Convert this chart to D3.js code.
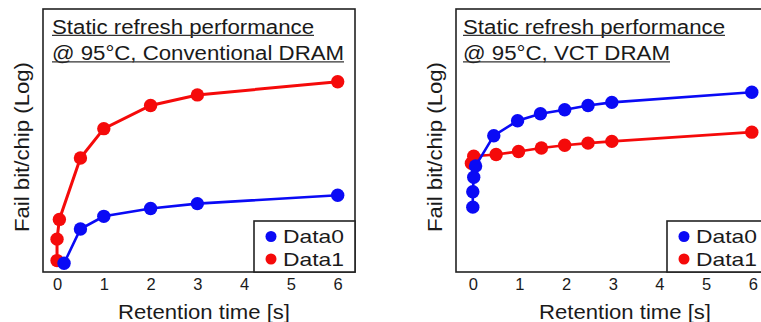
<!DOCTYPE html>
<html>
<head>
<meta charset="utf-8">
<script src="https://cdn.jsdelivr.net/npm/d3@7"></script>
<style>
  body { margin: 0; background: #fff; }
  text { font-family: "Liberation Sans", Arial, sans-serif; fill: #1a1a1a; }
</style>
</head>
<body>
<div id="vis"></div>
<script>
/* DATA (y = fail bit/chip in log decades, arbitrary origin) */
var xTicks = [0, 1, 2, 3, 4, 5, 6];
var seriesNames = ["Data0", "Data1"];

var convData0 = [[0.15, 0.20], [0.5, 0.98], [1, 1.27], [2, 1.45], [3, 1.56], [6, 1.75]];
var convData1 = [[0, 0.26], [0, 0.75], [0.05, 1.20], [0.5, 2.60], [1, 3.27], [2, 3.80], [3, 4.04], [6, 4.34]];

var vctData0 = [[0, 1.48], [0, 1.83], [0.02, 2.16], [0.06, 2.42], [0.45, 3.11], [0.96, 3.45], [1.45, 3.61], [1.97, 3.70], [2.47, 3.80], [2.98, 3.87], [5.98, 4.10]];
var vctData1 = [[-0.03, 2.48], [0.02, 2.64], [0.5, 2.68], [0.98, 2.75], [1.47, 2.83], [1.97, 2.89], [2.47, 2.94], [2.98, 2.98], [5.98, 3.19]];

var titleLine1 = "Static refresh performance";
var convTitle2 = "@ 95°C, Conventional DRAM";
var vctTitle2 = "@ 95°C, VCT DRAM";

var colors = ["#0a0af5", "#f50a0a"];

var w = 761;
var h = 322;

var svg = d3.select("#vis")
    .append("svg")
    .attr("width", w)
    .attr("height", h);

function drawPanel(opt) {
    var g = svg.append("g");

    var xScale = d3.scaleLinear()
        .domain(opt.xDomain)
        .range([opt.left, opt.right]);

    var yScale = d3.scaleLinear()
        .domain([0, 6])
        .range([opt.bottom, opt.top]);

    // frame
    g.append("rect")
        .attr("x", opt.left)
        .attr("y", opt.top)
        .attr("width", opt.right - opt.left)
        .attr("height", opt.bottom - opt.top)
        .attr("fill", "none")
        .attr("stroke", "#222")
        .attr("stroke-width", 1.6);

    /* TITLE (two underlined lines) */
    [[opt.title1, 33.5, opt.t1Len], [opt.title2, 60, opt.t2Len]].forEach(function (t) {
        g.append("text")
            .attr("x", opt.titleX)
            .attr("y", t[1])
            .attr("textLength", t[2])
            .attr("lengthAdjust", "spacingAndGlyphs")
            .style("font-size", "19.5px")
            .text(t[0]);
        g.append("line")
            .attr("x1", opt.titleX)
            .attr("x2", opt.titleX + t[2])
            .attr("y1", t[1] + 1.8)
            .attr("y2", t[1] + 1.8)
            .attr("stroke", "#333")
            .attr("stroke-width", 1.3);
    });

    /* LINES + POINTS */
    var line = d3.line()
        .x(d => xScale(d[0]))
        .y(d => yScale(d[1]));

    [opt.data1, opt.data0].forEach(function (data, k) {
        var c = k === 0 ? colors[1] : colors[0];
        g.append("path")
            .datum(data)
            .attr("d", line)
            .attr("fill", "none")
            .attr("stroke", c)
            .attr("stroke-width", k === 0 ? opt.redWidth : 2.6);
        g.selectAll(null)
            .data(data)
            .enter()
            .append("circle")
            .attr("cx", d => xScale(d[0]))
            .attr("cy", d => yScale(d[1]))
            .attr("r", 6.7)
            .attr("fill", c);
    });

    /* X AXIS */
    var xAxis = d3.axisBottom(xScale)
        .tickValues(xTicks)
        .tickSize(0)
        .tickPadding(6)
        .tickFormat(d3.format("d"));

    var ax = g.append("g")
        .attr("transform", "translate(0," + opt.bottom + ")")
        .call(xAxis);
    ax.select(".domain").remove();
    ax.selectAll("text")
        .style("font-family", "'Liberation Sans', Arial, sans-serif")
        .style("font-size", "16.5px")
        .attr("fill", "#222");

    g.append("text")
        .attr("x", opt.xTitleX)
        .attr("y", 318.5)
        .attr("text-anchor", "middle")
        .attr("textLength", 172)
        .attr("lengthAdjust", "spacingAndGlyphs")
        .style("font-size", "20px")
        .text("Retention time [s]");

    g.append("text")
        .attr("transform", "translate(" + opt.yTitleX + "," + 147 + ") rotate(-90)")
        .attr("text-anchor", "middle")
        .attr("textLength", 170)
        .attr("lengthAdjust", "spacingAndGlyphs")
        .style("font-size", "20px")
        .text("Fail bit/chip (Log)");

    /* LEGEND */
    var lg = g.append("g");
    lg.append("rect")
        .attr("x", opt.legendX)
        .attr("y", 221)
        .attr("width", opt.right - opt.legendX)
        .attr("height", opt.bottom - 221)
        .attr("fill", "#fff")
        .attr("stroke", "#222")
        .attr("stroke-width", 1.6);

    seriesNames.forEach(function (name, i) {
        var cy = 236.5 + i * 22.5;
        lg.append("circle")
            .attr("cx", opt.legendX + 17)
            .attr("cy", cy)
            .attr("r", 5.5)
            .attr("fill", colors[i]);
        lg.append("text")
            .attr("x", opt.legendX + 29)
            .attr("y", cy + 6.8)
            .attr("textLength", 61)
            .attr("lengthAdjust", "spacingAndGlyphs")
            .style("font-size", "18.6px")
            .text(name);
    });
}

drawPanel({
    left: 43, right: 355, top: 9, bottom: 272,
    xDomain: [-0.3, 6.37],
    title1: titleLine1, title2: convTitle2,
    titleX: 52, t1Len: 262, t2Len: 292,
    data0: convData0, data1: convData1,
    redWidth: 3,
    xTitleX: 204, yTitleX: 29,
    legendX: 254
});

drawPanel({
    left: 456, right: 770, top: 9, bottom: 272,
    xDomain: [-0.36, 6.37],
    title1: titleLine1, title2: vctTitle2,
    titleX: 463, t1Len: 262, t2Len: 207,
    data0: vctData0, data1: vctData1,
    redWidth: 2.6,
    xTitleX: 625, yTitleX: 442,
    legendX: 667
});
</script>
</body>
</html>
